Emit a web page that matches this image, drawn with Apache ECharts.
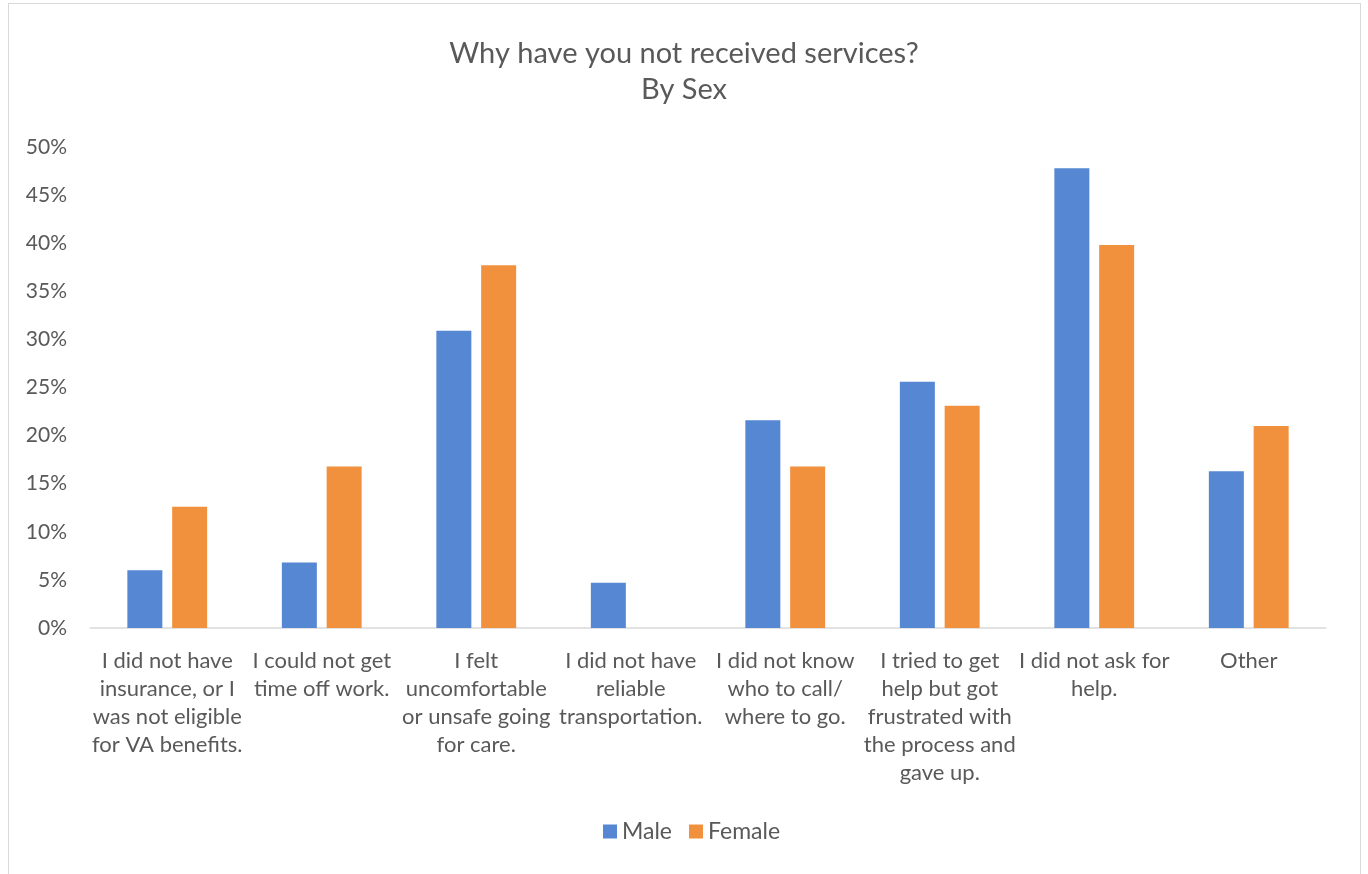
<!DOCTYPE html>
<html><head><meta charset="utf-8">
<script src="https://cdn.jsdelivr.net/npm/echarts@6/dist/echarts.min.js"></script>
<style>
html,body{margin:0;padding:0;background:#fff;}
#frame{position:absolute;left:8px;top:3px;width:1353px;height:890px;border:1.5px solid #d9d9d9;box-sizing:border-box;}
#chart{position:absolute;left:0;top:0;width:1368px;height:874px;}
</style></head>
<body>
<div id="frame"></div>
<div id="chart"></div>
<script>
const categories = [
  "I did not have\ninsurance, or I\nwas not eligible\nfor VA benefits.",
  "I could not get\ntime off work.",
  "I felt\nuncomfortable\nor unsafe going\nfor care.",
  "I did not have\nreliable\ntransportation.",
  "I did not know\nwho to call/\nwhere to go.",
  "I tried to get\nhelp but got\nfrustrated with\nthe process and\ngave up.",
  "I did not ask for\nhelp.",
  "Other"
];
const male = [6.0, 6.8, 30.9, 4.7, 21.6, 25.6, 47.8, 16.3];
const female = [12.6, 16.8, 37.7, 0, 16.8, 23.1, 39.8, 21.0];
const seriesNames = ["Male", "Female"];
const titleLines = ["Why have you not received services?", "By Sex"];

const font = "Lato, 'Open Sans', sans-serif";
const txt = "#595959";
const chart = echarts.init(document.getElementById('chart'), null, {renderer:'canvas'});
chart.setOption({
  animation:false,
  textStyle:{fontFamily:font},
  title:{
    text: titleLines.join("\n"),
    left:'center', top:31,
    textStyle:{fontFamily:font, fontSize:29, fontWeight:'normal', color:txt, lineHeight:36}
  },
  legend:{
    data:seriesNames, bottom:26, left:598,
    itemWidth:14, itemHeight:14, itemGap:17, icon:'rect',
    textStyle:{fontFamily:font, fontSize:23, color:txt}
  },
  grid:{left:90, right:42, top:147, bottom:246, containLabel:false},
  xAxis:{
    type:'category', data:categories,
    axisLine:{lineStyle:{color:'#d9d9d9', width:1.5}},
    axisTick:{show:false},
    axisLabel:{interval:0, fontFamily:font, fontSize:22, color:txt, lineHeight:28, margin:19}
  },
  yAxis:{
    type:'value', min:0, max:50, interval:5,
    axisLine:{show:false}, axisTick:{show:false},
    splitLine:{show:false},
    axisLabel:{formatter:'{value}%', fontFamily:font, fontSize:21, color:txt, margin:23}
  },
  series:[
    {name:seriesNames[0], type:'bar', data:male, barWidth:35, barGap:'28%', itemStyle:{color:'#5587D2'}},
    {name:seriesNames[1], type:'bar', data:female, barWidth:35, itemStyle:{color:'#F2913D'}}
  ]
});
</script>
</body></html>
